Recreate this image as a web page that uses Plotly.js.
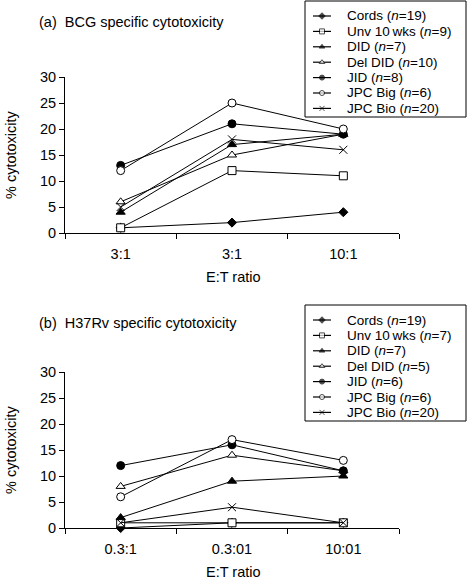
<!DOCTYPE html>
<html><head>
<script src="https://cdn.plot.ly/plotly-3.0.1.min.js"></script>
<style>body{margin:0;background:#fff}</style>
</head><body>
<div id="chart" style="width:468px;height:584px"></div>
<script>
// ---- data ----
const seriesNames = ["Cords", "Unv 10\u2009wks", "DID", "Del DID", "JID", "JPC Big", "JPC Bio"];
const nPanelA = [19, 9, 7, 10, 8, 6, 20];
const nPanelB = [19, 7, 7, 5, 6, 6, 20];
const ratioLabelsA = ["3:1", "3:1", "10:1"];
const ratioLabelsB = ["0.3:1", "0.3:01", "10:01"];

// (a) BCG specific cytotoxicity
const cordsA   = [1, 2, 4];
const unvA     = [1, 12, 11];
const didA     = [4, 17, 19];
const delDidA  = [6, 15, 19];
const jidA     = [13, 21, 19];
const jpcBigA  = [12, 25, 20];
const jpcBioA  = [5, 18, 16];

// (b) H37Rv specific cytotoxicity
const cordsB   = [0, 1, 1];
const unvB     = [1, 1, 1];
const didB     = [2, 9, 10];
const delDidB  = [8, 14, 11];
const jidB     = [12, 16, 11];
const jpcBigB  = [6, 17, 13];
const jpcBioB  = [1, 4, 1];

const valuesA = [cordsA, unvA, didA, delDidA, jidA, jpcBigA, jpcBioA];
const valuesB = [cordsB, unvB, didB, delDidB, jidB, jpcBigB, jpcBioB];

// ---- styles ----
const symbols = ["diamond", "square", "triangle-up", "triangle-up", "circle", "circle", "x-thin-open"];
const fills   = ["#000", "#fff", "#000", "#fff", "#000", "#fff", "#000"];
const sizes   = [7, 8, 8, 8, 8, 8, 8];
const FONT = "Liberation Sans, Arial, Helvetica, sans-serif";
const FS = 14.5;
const LEG_FS = 13.5;

const W = 468, H = 584;
const px = v => v / W;
const py = v => 1 - v / H;

const traces = [];
function addPanel(values, xa, ya) {
  values.forEach((vals, i) => {
    traces.push({
      type: "scatter", mode: "lines+markers",
      x: vals.map((_, k) => k), y: vals,
      xaxis: xa, yaxis: ya, showlegend: false, cliponaxis: false,
      line: {color: "#000", width: 1},
      marker: {symbol: symbols[i], size: sizes[i], color: fills[i],
               line: {color: "#000", width: 1}}
    });
  });
}
addPanel(valuesA, "x", "y");
addPanel(valuesB, "x2", "y2");

// legend symbol samples (line with a small marker in the middle), one per series row
const ROW0 = 15, ROWSTEP = 15.4;
function addLegendSymbols(xa, ya) {
  seriesNames.forEach((_, i) => {
    const r = ROW0 + i * ROWSTEP;
    traces.push({
      type: "scatter", mode: "lines+markers",
      x: [8, 17, 26], y: [r, r, r], xaxis: xa, yaxis: ya,
      showlegend: false, hoverinfo: "skip", cliponaxis: false,
      line: {color: "#000", width: 1.2},
      marker: {symbol: symbols[i], size: [0, 5, 0], color: fills[i],
               line: {color: "#000", width: [0, 1, 0]}}
    });
  });
}
addLegendSymbols("x3", "y3");
addLegendSymbols("x4", "y4");

const plotX = [px(65), px(399)];
const domA = [py(233), py(77)];
const domB = [py(528), py(372)];
const boxA = {top: 1, bottom: 117};
const boxB = {top: 305, bottom: 421};
const boxX = [305, 466];

function xAxis(labels, dom, anchor) {
  return {
    domain: plotX, anchor: anchor, range: [-0.5, 2.5], fixedrange: true,
    tickmode: "array", tickvals: labels.map((_, k) => k), ticktext: labels,
    ticks: "", showgrid: false, zeroline: false,
    showline: true, linecolor: "#000", linewidth: 1,
    ticklabelstandoff: 8,
    tickfont: {family: FONT, size: FS, color: "#000"},
    minor: {tick0: -0.5, dtick: 1, ticks: "outside", ticklen: 5, tickcolor: "#000", tickwidth: 1, showgrid: false}
  };
}
function yAxis(dom, anchor) {
  return {
    domain: dom, anchor: anchor, range: [0, 30], fixedrange: true,
    dtick: 5, ticks: "outside", ticklen: 5, tickcolor: "#000", tickwidth: 1,
    showgrid: false, zeroline: false, showline: true, linecolor: "#000", linewidth: 1,
    tickfont: {family: FONT, size: FS, color: "#000"}
  };
}
function legAxes(box) {
  return [
    {domain: [px(boxX[0]), px(boxX[1])], range: [0, boxX[1] - boxX[0]], visible: false, fixedrange: true},
    {domain: [py(box.bottom), py(box.top)], range: [box.bottom - box.top, 0], visible: false, fixedrange: true}
  ];
}
const [lx3, ly3] = legAxes(boxA);
const [lx4, ly4] = legAxes(boxB);
lx3.anchor = "y3"; ly3.anchor = "x3"; lx4.anchor = "y4"; ly4.anchor = "x4";

const annotations = [];
const txt = (text, x, y, opts) => annotations.push(Object.assign({
  text, x, y, xref: "paper", yref: "paper", showarrow: false,
  font: {family: FONT, size: FS, color: "#000"}
}, opts || {}));

txt("(a)\u00a0\u00a0BCG specific cytotoxicity", px(37), py(22), {xanchor: "left", yanchor: "middle"});
txt("(b)\u00a0\u00a0H37Rv specific cytotoxicity", px(37), py(323), {xanchor: "left", yanchor: "middle"});
txt("E:T ratio", px(233), py(277), {xanchor: "center", yanchor: "middle"});
txt("E:T ratio", px(233), py(572), {xanchor: "center", yanchor: "middle"});
txt("% cytotoxicity", px(11), py(155), {xanchor: "center", yanchor: "middle", textangle: -90});
txt("% cytotoxicity", px(11), py(450), {xanchor: "center", yanchor: "middle", textangle: -90});

function legendText(nArr, xa, ya) {
  seriesNames.forEach((name, i) => {
    annotations.push({
      text: name + " (<i>n</i>=" + nArr[i] + ")",
      x: 41, y: ROW0 + i * ROWSTEP, xref: xa, yref: ya,
      xanchor: "left", yanchor: "middle", showarrow: false, borderpad: 0,
      font: {family: FONT, size: LEG_FS, color: "#000"}
    });
  });
}
legendText(nPanelA, "x3", "y3");
legendText(nPanelB, "x4", "y4");

const shapes = [boxA, boxB].map(b => ({
  type: "rect", xref: "paper", yref: "paper", layer: "below",
  x0: px(boxX[0]), x1: px(boxX[1]), y0: py(b.bottom), y1: py(b.top),
  line: {color: "#000", width: 1}, fillcolor: "#fff"
}));

const layout = {
  width: W, height: H, margin: {l: 0, r: 0, t: 0, b: 0},
  paper_bgcolor: "#fff", plot_bgcolor: "rgba(0,0,0,0)",
  showlegend: false,
  font: {family: FONT, size: FS, color: "#000"},
  xaxis: xAxis(ratioLabelsA, domA, "y"),
  yaxis: yAxis(domA, "x"),
  xaxis2: xAxis(ratioLabelsB, domB, "y2"),
  yaxis2: yAxis(domB, "x2"),
  xaxis3: lx3, yaxis3: ly3, xaxis4: lx4, yaxis4: ly4,
  annotations, shapes
};

Plotly.newPlot("chart", traces, layout, {staticPlot: true, displayModeBar: false});
</script>
</body></html>
